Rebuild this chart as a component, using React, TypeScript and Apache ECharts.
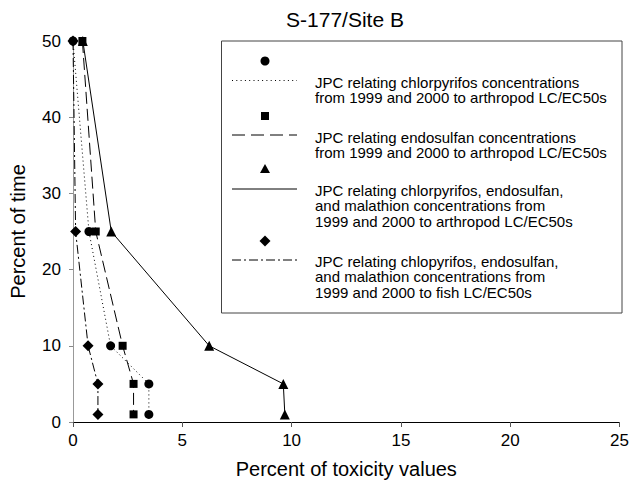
import React, { useEffect, useRef } from "react";
import * as echarts from "echarts";

const titleText = "S-177/Site B";
const xAxisName = "Percent of toxicity values";
const yAxisName = "Percent of time";
const percentOfTime = [50, 25, 10, 5, 1];
const chlorpyrifosArthropod = [0, 0.73, 1.72, 3.47, 3.47];
const endosulfanArthropod = [0.43, 1.04, 2.27, 2.77, 2.77];
const combinedArthropod = [0.45, 1.75, 6.23, 9.62, 9.69];
const combinedFish = [0, 0.12, 0.69, 1.14, 1.14];

const legendLabels = [
  ["JPC relating chlorpyrifos concentrations", "from 1999 and 2000 to arthropod LC/EC50s"],
  ["JPC relating endosulfan concentrations", "from 1999 and 2000 to arthropod LC/EC50s"],
  [
    "JPC relating chlorpyrifos, endosulfan,",
    "and malathion concentrations from",
    "1999 and 2000 to arthropod LC/EC50s",
  ],
  [
    "JPC relating chlopyrifos, endosulfan,",
    "and malathion concentrations from",
    "1999 and 2000 to fish LC/EC50s",
  ],
];

const FONT = "'Liberation Sans', Arial, Helvetica, sans-serif";

const seriesDefs = [
  { name: "chlorpyrifos", xs: chlorpyrifosArthropod, symbol: "circle", size: 9, dash: [1, 3] as any, legendDash: [1, 3.3], z: 4 },
  { name: "endosulfan", xs: endosulfanArthropod, symbol: "rect", size: 8, dash: [12, 5] as any, legendDash: [13, 6], z: 5 },
  { name: "combined", xs: combinedArthropod, symbol: "triangle", size: 10, dash: "solid" as any, legendDash: null, z: 3 },
  { name: "fish", xs: combinedFish, symbol: "diamond", size: 11, dash: [9, 3, 2, 3] as any, legendDash: [9, 3, 2, 3], z: 6 },
];

export default function App() {
  const ref = useRef<HTMLDivElement>(null);
  useEffect(() => {
    if (!ref.current) return;
    const chart = echarts.init(ref.current, undefined, { renderer: "svg" });

    const legendX0 = 232;
    const legendX1 = 297;
    const markerX = 265;
    const textX = 315;
    const entryMarkerY = [61, 116, 169, 241];
    const entryLineY = [80.5, 135, 189, 260];
    const entryTextY = [82, 137, 190, 261];
    const lineStep = 15.6;

    const graphics: any[] = [
      {
        type: "text",
        x: 345,
        y: 19,
        style: {
          text: titleText,
          font: `21px ${FONT}`,
          fill: "#000",
          textAlign: "center",
          textVerticalAlign: "middle",
        },
      },
      {
        type: "rect",
        shape: { x: 221.5, y: 41, width: 400.5, height: 272 },
        style: { fill: "#fff", stroke: "#444", lineWidth: 1 },
        z: 10,
      },
    ];
    seriesDefs.forEach((s, i) => {
      const my = entryMarkerY[i];
      let marker: any;
      if (s.symbol === "circle") {
        marker = { type: "circle", shape: { cx: markerX, cy: my, r: 4.5 }, style: { fill: "#000" } };
      } else if (s.symbol === "rect") {
        marker = { type: "rect", shape: { x: markerX - 4, y: my - 4, width: 8, height: 8 }, style: { fill: "#000" } };
      } else if (s.symbol === "triangle") {
        marker = {
          type: "polygon",
          shape: { points: [[markerX, my - 5], [markerX + 5, my + 4], [markerX - 5, my + 4]] },
          style: { fill: "#000" },
        };
      } else {
        marker = {
          type: "polygon",
          shape: { points: [[markerX, my - 5.5], [markerX + 5.5, my], [markerX, my + 5.5], [markerX - 5.5, my]] },
          style: { fill: "#000" },
        };
      }
      marker.z = 11;
      graphics.push(marker);
      graphics.push({
        type: "line",
        shape: { x1: legendX0, y1: entryLineY[i], x2: legendX1, y2: entryLineY[i] },
        style: { stroke: "#000", lineWidth: 1, lineDash: s.legendDash },
        z: 11,
      });
      legendLabels[i].forEach((t, j) => {
        graphics.push({
          type: "text",
          x: textX,
          y: entryTextY[i] + j * lineStep,
          z: 11,
          style: {
            text: t,
            font: `15px ${FONT}`,
            fill: "#000",
            textAlign: "left",
            textVerticalAlign: "middle",
          },
        });
      });
    });

    chart.setOption({
      animation: false,
      grid: { left: 72, right: 11, top: 41, bottom: 59, containLabel: false },
      xAxis: [
        {
          type: "value",
          min: 0,
          max: 25,
          interval: 5,
          name: xAxisName,
          nameLocation: "middle",
          nameGap: 37,
          nameTextStyle: { fontSize: 20, color: "#000", fontFamily: FONT },
          axisLine: { lineStyle: { color: "#000", width: 1 } },
          axisTick: { show: true, length: 5, lineStyle: { color: "#555" } },
          axisLabel: { fontSize: 17, color: "#000", fontFamily: FONT, margin: 10 },
          splitLine: { show: false },
        },
        {
          type: "value",
          position: "top",
          min: 0,
          max: 25,
          axisLine: { show: true, lineStyle: { color: "#000", width: 1 } },
          axisTick: { show: false },
          axisLabel: { show: false },
          splitLine: { show: false },
        },
      ],
      yAxis: [
        {
          type: "value",
          min: 0,
          max: 50,
          interval: 10,
          name: yAxisName,
          nameLocation: "middle",
          nameGap: 45,
          nameTextStyle: { fontSize: 20, color: "#000", fontFamily: FONT },
          axisLine: { show: true, lineStyle: { color: "#333", width: 1 } },
          axisTick: { show: true, length: 4, lineStyle: { color: "#888" } },
          axisLabel: { fontSize: 17, color: "#000", fontFamily: FONT, margin: 12 },
          splitLine: { show: false },
        },
        {
          type: "value",
          position: "right",
          min: 0,
          max: 50,
          axisLine: { show: true, lineStyle: { color: "#999", width: 1 } },
          axisTick: { show: false },
          axisLabel: { show: false },
          splitLine: { show: false },
        },
      ],
      series: seriesDefs.map((s) => ({
        name: s.name,
        type: "line",
        xAxisIndex: 0,
        yAxisIndex: 0,
        data: s.xs.map((x, i) => [x, percentOfTime[i]]),
        symbol: s.symbol,
        symbolSize: s.size,
        showAllSymbol: true,
        z: s.z,
        lineStyle: { color: "#000", width: 1, type: s.dash },
        itemStyle: { color: "#000", borderColor: "#000", borderWidth: 0 },
      })),
      graphic: graphics,
    });

    return () => chart.dispose();
  }, []);

  return (
    <div
      ref={ref}
      style={{ position: "fixed", left: 0, top: 0, width: 632, height: 484, background: "#fff" }}
    />
  );
}
